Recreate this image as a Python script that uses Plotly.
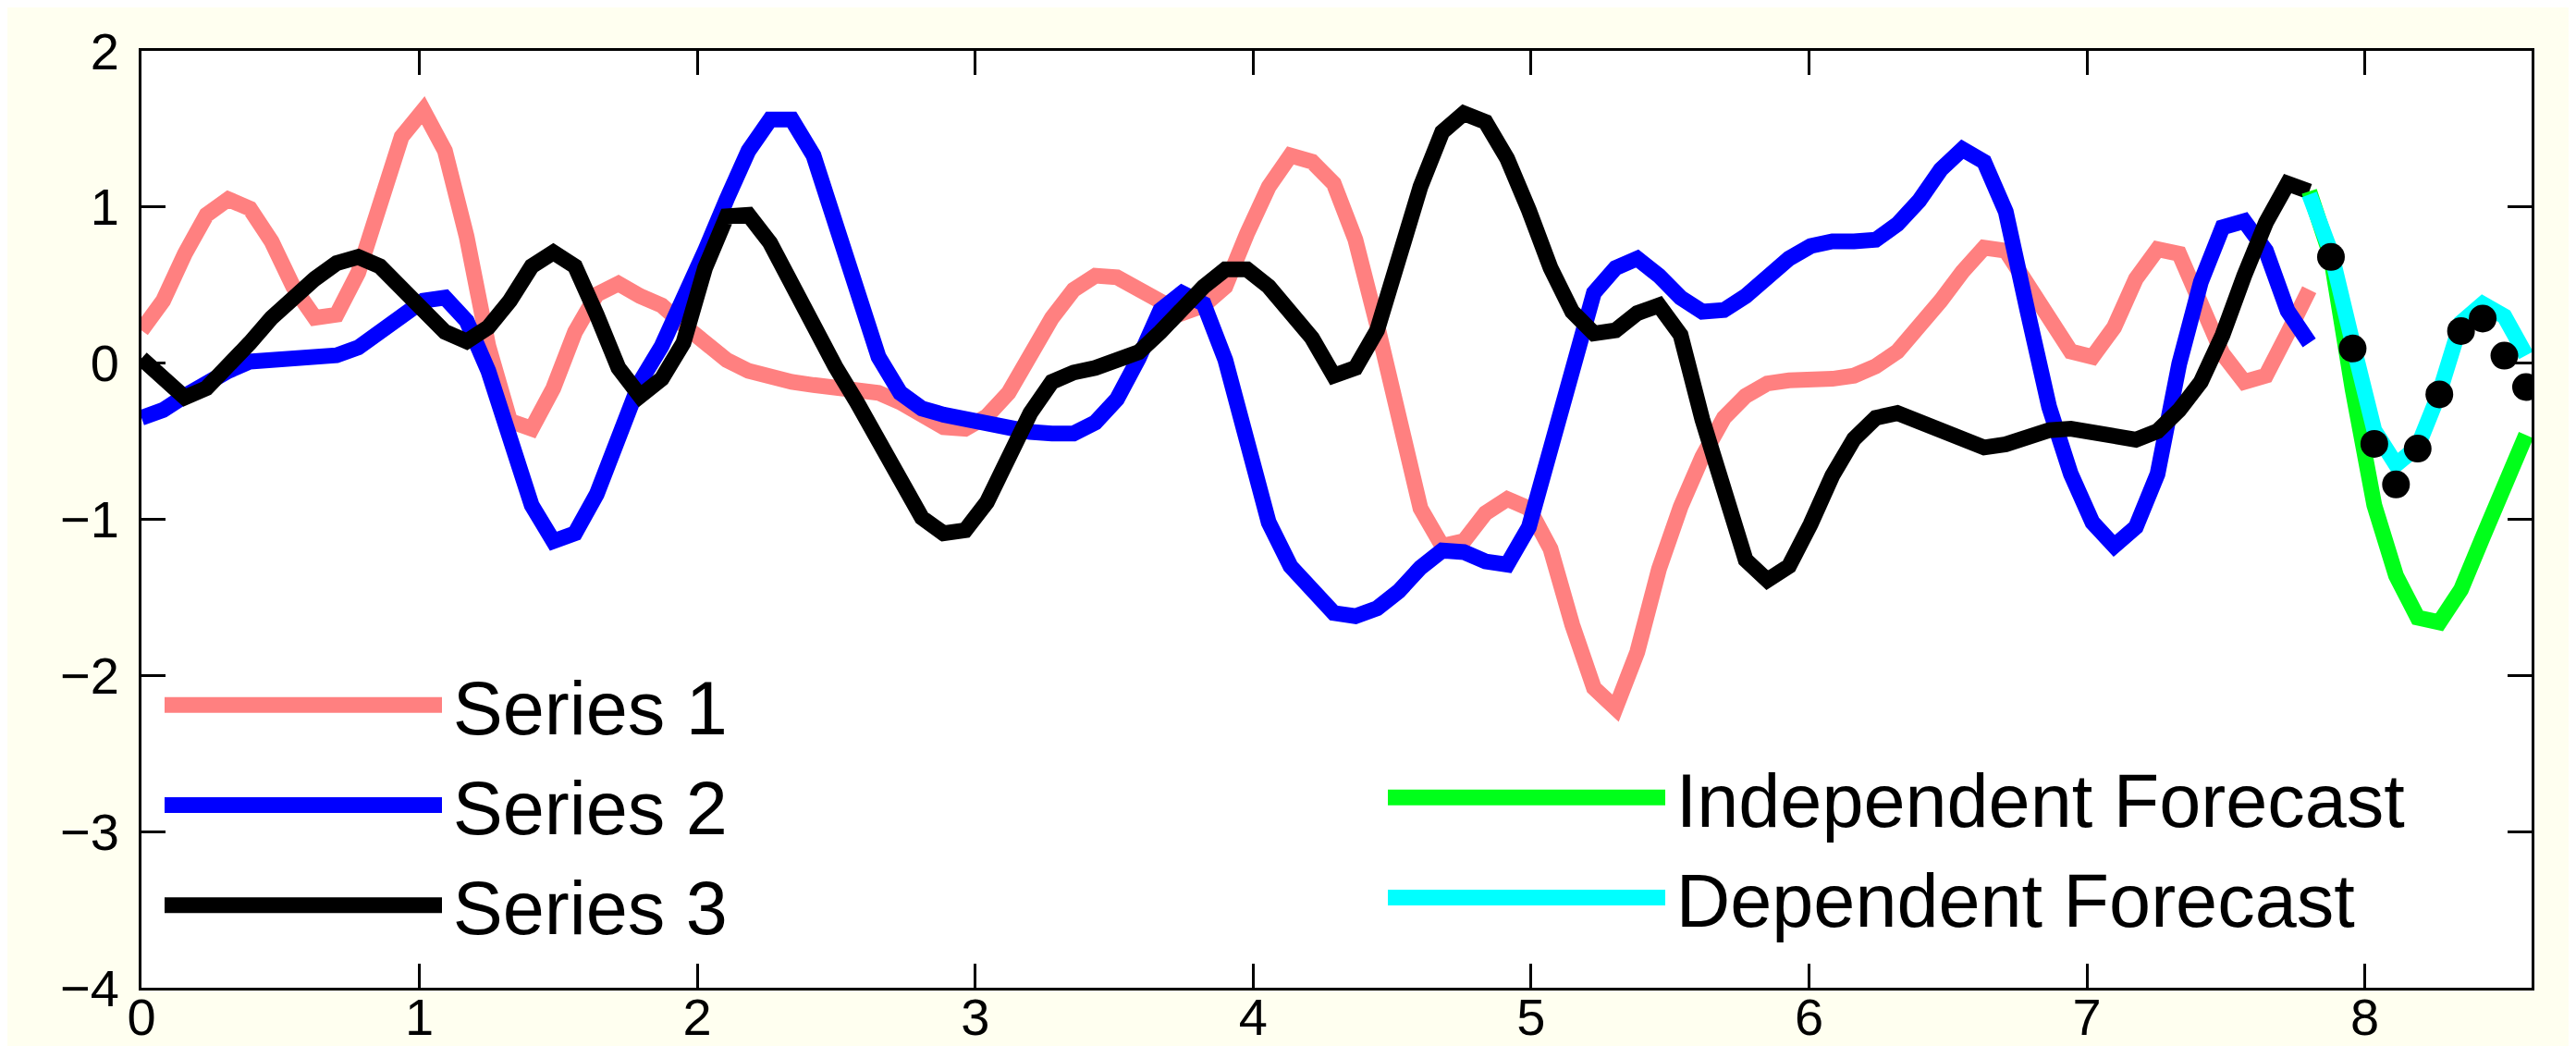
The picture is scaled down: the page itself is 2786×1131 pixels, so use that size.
import numpy as np
import plotly.graph_objects as go

STEP = 0.078
t_obs = np.round(np.arange(101) * STEP, 3)
t_fc = np.round(np.arange(100, 111) * STEP, 3)
t_act = np.round(np.arange(101, 111) * STEP, 3)

series1 = [0.21, 0.40, 0.70, 0.95, 1.05, 0.99, 0.78, 0.49, 0.29, 0.31,
           0.58, 1.06, 1.45, 1.62, 1.36, 0.81, 0.11, -0.37, -0.42, -0.16,
           0.20, 0.44, 0.51, 0.43, 0.37, 0.245, 0.12, 0.02, -0.05, -0.095,
           -0.12, -0.14, -0.15, -0.17, -0.19, -0.25, -0.34, -0.41, -0.42, -0.34,
           -0.19, 0.05, 0.29, 0.47, 0.56, 0.55, 0.47, 0.38, 0.32, 0.37,
           0.49, 0.83, 1.13, 1.33, 1.29, 1.15, 0.79, 0.245, -0.39, -0.93,
           -1.17, -1.14, -0.96, -0.87, -0.93, -1.19, -1.675, -2.08, -2.21, -1.85,
           -1.32, -0.92, -0.60, -0.35, -0.21, -0.13, -0.11, -0.11, -0.10, -0.08,
           -0.02, 0.075, 0.22, 0.40, 0.585, 0.74, 0.72, 0.49, 0.27, 0.075,
           0.04, 0.23, 0.54, 0.73, 0.70, 0.40, 0.06, -0.12, -0.08, 0.19,
           0.47]

series2 = [-0.35, -0.30, -0.21, -0.12, -0.05, 0.01, 0.02, 0.01, 0.02, 0.05,
           0.10, 0.20, 0.31, 0.40, 0.42, 0.27, -0.05, -0.50, -0.91, -1.14,
           -1.09, -0.84, -0.48, -0.12, 0.11, 0.40, 0.72, 1.05, 1.36, 1.56,
           1.56, 1.33, 0.88, 0.43, 0.04, -0.19, -0.29, -0.33, -0.36, -0.37,
           -0.40, -0.44, -0.45, -0.45, -0.38, -0.23, 0.03, 0.34, 0.45, 0.38,
           0.02, -0.55, -1.02, -1.30, -1.46, -1.60, -1.62, -1.57, -1.46, -1.31,
           -1.20, -1.21, -1.27, -1.29, -1.05, -0.55, -0.05, 0.45, 0.61, 0.67,
           0.56, 0.42, 0.33, 0.34, 0.43, 0.56, 0.67, 0.75, 0.78, 0.78,
           0.79, 0.89, 1.04, 1.24, 1.37, 1.29, 0.97, 0.335, -0.28, -0.71,
           -1.02, -1.17, -1.05, -0.71, -0.005, 0.52, 0.87, 0.91, 0.72, 0.335,
           0.13]

series3 = [0.03, -0.11, -0.22, -0.16, -0.03, 0.13, 0.29, 0.43, 0.54, 0.64,
           0.68, 0.62, 0.49, 0.35, 0.20, 0.14, 0.23, 0.40, 0.62, 0.71,
           0.62, 0.31, -0.03, -0.21, -0.10, 0.13, 0.61, 0.94, 0.95, 0.77,
           0.49, 0.23, -0.02, -0.25, -0.50, -0.78, -0.99, -1.09, -1.07, -0.89,
           -0.62, -0.32, -0.12, -0.06, -0.03, 0.01, 0.07, 0.20, 0.36, 0.49,
           0.60, 0.60, 0.49, 0.33, 0.16, -0.08, -0.03, 0.21, 0.65, 1.13,
           1.48, 1.60, 1.545, 1.31, 0.98, 0.61, 0.33, 0.19, 0.21, 0.32,
           0.37, 0.18, -0.36, -0.83, -1.26, -1.39, -1.30, -1.03, -0.72, -0.485,
           -0.35, -0.32, -0.375, -0.45, -0.51, -0.54, -0.52, -0.48, -0.43, -0.42,
           -0.435, -0.475, -0.49, -0.435, -0.30, -0.12, 0.18, 0.56, 0.90, 1.15,
           1.10]

independent_fc = [1.10, 0.68, -0.17, -0.91, -1.36, -1.63, -1.66, -1.45, -1.115, -0.77, -0.46]
dependent_fc = [1.08, 0.71, 0.13, -0.43, -0.65, -0.535, -0.19, 0.26, 0.38, 0.30, 0.05]
actual = [0.68, 0.094, -0.517, -0.777, -0.547, -0.20, 0.206, 0.286, 0.048, -0.153]

series_names = ["Series 1", "Series 2", "Series 3"]
forecast_names = ["Independent Forecast", "Dependent Forecast"]
x_ticks = [0, 1, 2, 3, 4, 5, 6, 7, 8]
y_ticks = [-4, -3, -2, -1, 0, 1, 2]

FONT = "Liberation Sans, Arial, Helvetica, sans-serif"
LW = 17
GAP = "\u200a"  # small gap between legend line and its label

W, H = 2786, 1131
ML, MR, MT, MB = 145, 56, 47, 71
PW, PH = W - ML - MR, H - MT - MB


def px_to_paper(px, py):
    return (px - ML) / PW, (H - MB - py) / PH


fig = go.Figure()
for name, vals, col in zip(series_names, [series1, series2, series3],
                           ["#FF8080", "#0000FF", "#000000"]):
    fig.add_trace(go.Scatter(x=t_obs, y=vals, mode="lines", name=GAP + name,
                             line=dict(color=col, width=LW), legend="legend"))
for name, vals, col in zip(forecast_names, [independent_fc, dependent_fc],
                           ["#00FF1A", "#00FFFF"]):
    fig.add_trace(go.Scatter(x=t_fc, y=vals, mode="lines", name=GAP + name,
                             line=dict(color=col, width=LW), legend="legend2"))
fig.add_trace(go.Scatter(x=t_act, y=actual, mode="markers", showlegend=False,
                         marker=dict(color="#000000", size=30)))

axis_common = dict(
    showgrid=False, zeroline=False, showline=True, linecolor="black", linewidth=3,
    ticks="inside", ticklen=26, tickwidth=2.5, tickcolor="black", mirror="ticks",
    tickfont=dict(family=FONT, size=56, color="black"), automargin=False,
)

legend_common = dict(
    font=dict(family=FONT, size=81, color="black"),
    bgcolor="rgba(0,0,0,0)", borderwidth=0, itemwidth=300,
    xref="paper", yref="paper", xanchor="left", yanchor="top",
    tracegroupgap=0, itemclick=False, itemdoubleclick=False,
)

l1x, l1y = px_to_paper(165, 695)
l2x, l2y = px_to_paper(1488, 795)

fig.update_layout(
    width=W, height=H,
    margin=dict(l=ML, r=MR, t=MT, b=MB, autoexpand=False),
    paper_bgcolor="#FFFFF0", plot_bgcolor="#FFFFFF",
    font=dict(family=FONT, color="black"),
    xaxis=dict(range=[0, 8.6], tickvals=x_ticks, ticklabelstandoff=-19, **axis_common),
    yaxis=dict(range=[-4, 2], tickvals=y_ticks, ticklabelstandoff=10, **axis_common),
    legend=dict(x=l1x, y=l1y, **legend_common),
    legend2=dict(x=l2x, y=l2y, **legend_common),
)

post = """
var gd = document.getElementById('{plot_id}');
function thicken() {
  gd.querySelectorAll('.legendlines path').forEach(function (p) {
    p.style.strokeWidth = '%dpx';
  });
}
thicken();
gd.on('plotly_afterplot', thicken);
""" % LW

fig.write_html("out.html", post_script=post)
